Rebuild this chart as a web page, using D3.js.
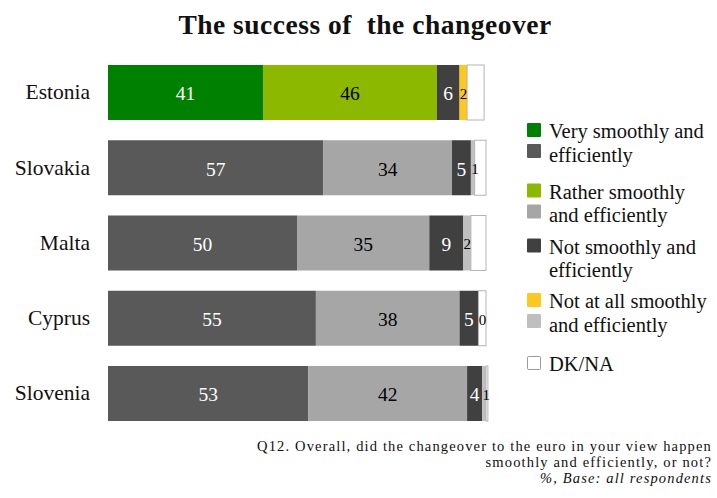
<!DOCTYPE html>
<html>
<head>
<meta charset="utf-8">
<script src="https://cdn.jsdelivr.net/npm/d3@7/dist/d3.min.js"></script>
<style>
  html, body { margin: 0; padding: 0; background: #ffffff; }
  svg { display: block; }
  text { font-family: "Liberation Serif", "Times New Roman", serif; fill: #111; }
</style>
</head>
<body>
<svg id="chart" width="717" height="498"></svg>
<script>
// Survey answers per country (%)
const countries = ["Estonia", "Slovakia", "Malta", "Cyprus", "Slovenia"];
const seriesKeys = ["very", "rather", "not", "notAtAll", "dkna"];
const verySmoothly   = [41, 57, 50, 55, 53];
const ratherSmoothly = [46, 34, 35, 38, 42];
const notSmoothly    = [6, 5, 9, 5, 4];
const notAtAll       = [2, 1, 2, 0, 1];
const dkNa           = [4.5, 3, 4, 2, 0.5];

// Estonia is highlighted in colour, the other countries in greys
const estoniaColors = ["#008000", "#8cb800", "#404040", "#ffc820", "#ffffff"];
const greyColors    = ["#595959", "#a6a6a6", "#404040", "#bfbfbf", "#ffffff"];
const labelColors   = ["#ffffff", "#000000", "#ffffff", "#000000", "#000000"];

const legendLabels = [
  ["Very smoothly and", "efficiently"],
  ["Rather smoothly", "and efficiently"],
  ["Not smoothly and", "efficiently"],
  ["Not at all smoothly", "and efficiently"],
  ["DK/NA"]
];

const titleText = "The success of\u00a0 the changeover";
const noteLines = [
  "Q12. Overall, did the changeover to the euro in your view happen",
  "smoothly and efficiently, or not?"
];
const baseText = "%, Base: all respondents";

const rows = countries.map((c, i) => ({
  country: c,
  very: verySmoothly[i],
  rather: ratherSmoothly[i],
  not: notSmoothly[i],
  notAtAll: notAtAll[i],
  dkna: dkNa[i]
}));

const svg = d3.select("#chart");

const x = d3.scaleLinear().domain([0, 100]).range([108, 486]);
const y = d3.scaleBand().domain(countries).range([44.75, 441.25]).padding(0.269);

const stacked = d3.stack().keys(seriesKeys)(rows);

const colorFor = (country, si) => (country === "Estonia" ? estoniaColors : greyColors)[si];

// Title
svg.append("text")
  .attr("x", 365).attr("y", 34)
  .attr("text-anchor", "middle")
  .attr("font-weight", "bold")
  .attr("font-size", 27.5)
  .attr("letter-spacing", 0.5)
  .text(titleText);

// Bars
stacked.forEach((layer, si) => {
  const g = svg.append("g");
  g.selectAll("rect")
    .data(layer)
    .join("rect")
    .attr("x", d => x(d[0]))
    .attr("y", d => y(d.data.country))
    .attr("width", d => Math.max(0, x(d[1]) - x(d[0])))
    .attr("height", y.bandwidth())
    .attr("fill", d => colorFor(d.data.country, si))
    .attr("stroke", si === 4 ? "#b4b4b4" : "none")
    .attr("stroke-width", 1);
});

// Value labels (DK/NA is not labelled)
stacked.slice(0, 4).forEach((layer, si) => {
  svg.append("g").selectAll("text")
    .data(layer)
    .join("text")
    .attr("x", d => (si === 3 ? x(d[0]) + Math.max(4, (x(d[1]) - x(d[0])) / 2) : (x(d[0]) + x(d[1])) / 2))
    .attr("y", d => y(d.data.country) + y.bandwidth() / 2 + 1)
    .attr("dy", "0.35em")
    .attr("text-anchor", "middle")
    .attr("font-size", d => (d.data[seriesKeys[si]] <= 2 ? 15 : 19.5))
    .style("fill", labelColors[si])
    .text(d => d.data[seriesKeys[si]]);
});

// Country axis
const yAxis = svg.append("g")
  .attr("transform", "translate(98,0)")
  .call(d3.axisLeft(y).tickSize(0).tickPadding(8));
yAxis.select(".domain").remove();
yAxis.selectAll("text")
  .attr("font-family", null)
  .attr("font-size", 21.5)
  .style("fill", "#111");

// Legend
const legendTop = [123, 183.5, 238.5, 293, 356];
legendLabels.forEach((lines, si) => {
  const g = svg.append("g").attr("transform", `translate(527,${legendTop[si]})`);
  const swatches = estoniaColors[si] === greyColors[si] ? [estoniaColors[si]] : [estoniaColors[si], greyColors[si]];
  swatches.forEach((c, k) => {
    g.append("rect")
      .attr("x", si === 4 ? 0.5 : 0)
      .attr("y", k * 21 + (si === 4 ? 0.5 : 0))
      .attr("width", si === 4 ? 13 : 14)
      .attr("height", si === 4 ? 13 : 14)
      .attr("rx", 1)
      .attr("fill", c)
      .attr("stroke", si === 4 ? "#9a9a9a" : "none");
  });
  lines.forEach((t, k) => {
    g.append("text")
      .attr("x", 22)
      .attr("y", 8 + k * 23.5)
      .attr("dy", "0.35em")
      .attr("font-size", 20.5)
      .text(t);
  });
});

// Question note
noteLines.forEach((t, k) => {
  svg.append("text")
    .attr("x", 712).attr("y", 450.6 + k * 16.2)
    .attr("text-anchor", "end")
    .attr("font-size", 14.5)
    .attr("letter-spacing", 1.15)
    .text(t);
});
svg.append("text")
  .attr("x", 712).attr("y", 483)
  .attr("text-anchor", "end")
  .attr("font-size", 14.5)
  .attr("letter-spacing", 1.15)
  .attr("font-style", "italic")
  .text(baseText);
</script>
</body>
</html>
